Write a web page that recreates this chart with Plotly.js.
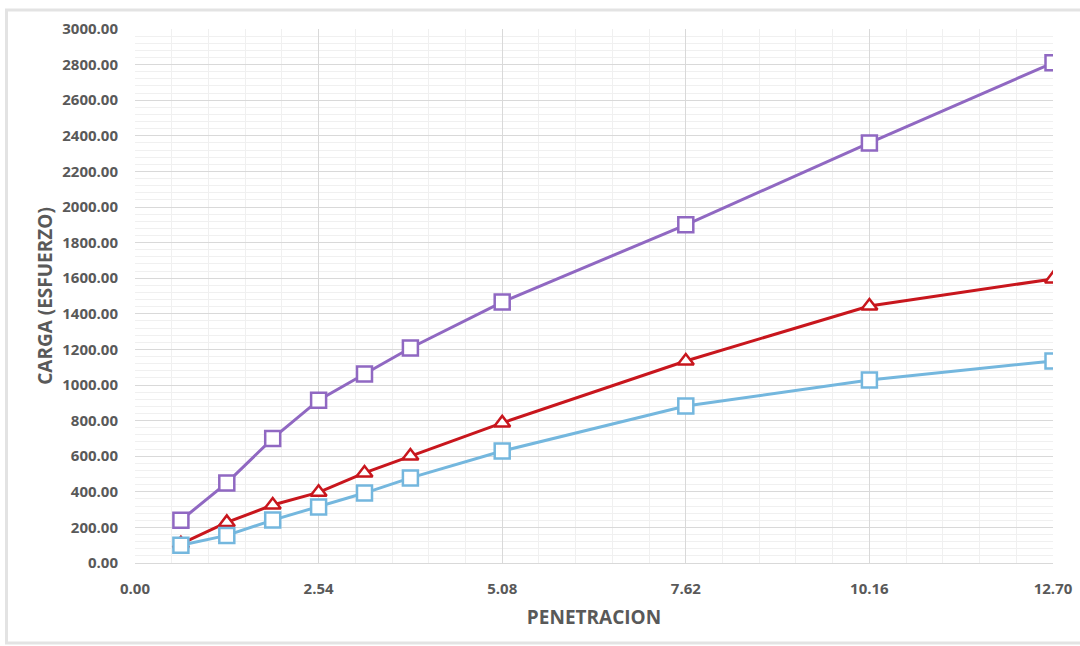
<!DOCTYPE html>
<html>
<head>
<meta charset="utf-8">
<script src="https://cdn.plot.ly/plotly-3.0.1.min.js"></script>
<style>html,body{margin:0;padding:0;background:#fff;}#chart{width:1080px;height:646px;}</style>
</head>
<body>
<div id="chart"></div>
<script>
const penetracion = [0.635, 1.27, 1.905, 2.54, 3.175, 3.81, 5.08, 7.62, 10.16, 12.70];
const cargaMorada = [240, 450, 700, 915, 1062, 1208, 1466, 1900, 2360, 2810];
const cargaRoja   = [108, 228, 326, 397, 506, 601, 787, 1135, 1444, 1596];
const cargaAzul   = [100, 155, 241, 315, 393, 478, 629, 882, 1028, 1135];
const xTicks = [0, 2.54, 5.08, 7.62, 10.16, 12.70];

const FONT = "Open Sans, sans-serif";
const GRAY = "#595959";

function serie(y, color, symbol, size, name) {
  return {
    x: penetracion, y: y, name: name, type: "scatter", mode: "lines+markers",
    line: {color: color, width: 3},
    marker: {symbol: symbol, size: size, color: "#ffffff", line: {color: color, width: 2.5}},
    showlegend: false
  };
}

const data = [
  serie(cargaMorada, "#9068c2", "square", 15, "Morada"),
  serie(cargaRoja, "#c8161d", "triangle-up", 14, "Roja"),
  serie(cargaAzul, "#74b7de", "square", 15, "Azul")
];

const tickFont = {family: FONT, size: 15, color: GRAY, weight: "bold"};
const titleFont = {family: FONT, size: 19, color: GRAY, weight: "bold"};

const layout = {
  width: 1080, height: 646,
  margin: {l: 135, r: 27, t: 29, b: 83},
  paper_bgcolor: "#fff", plot_bgcolor: "#fff",
  font: {family: FONT, color: GRAY},
  xaxis: {
    range: [0, 12.70], tickvals: xTicks, ticktext: xTicks.map(v => v.toFixed(2)),
    showgrid: true, gridcolor: "#d9d9d9", gridwidth: 1,
    minor: {dtick: 0.508, tick0: 0, showgrid: true, gridcolor: "#f0f0f0", gridwidth: 1},
    zeroline: false, showline: true, linecolor: "#d9d9d9",
    ticks: "outside", ticklen: 12, tickcolor: "rgba(0,0,0,0)",
    tickfont: tickFont,
    title: {text: "PENETRACION", standoff: 13, font: titleFont}
  },
  yaxis: {
    range: [0, 3000], dtick: 200, tick0: 0, tickformat: ".2f",
    showgrid: true, gridcolor: "#d9d9d9", gridwidth: 1,
    minor: {dtick: 40, showgrid: true, gridcolor: "#f0f0f0", gridwidth: 1},
    zeroline: false, showline: false,
    ticks: "outside", ticklen: 13, tickcolor: "rgba(0,0,0,0)",
    tickfont: tickFont,
    title: {text: "CARGA (ESFUERZO)", standoff: 4, font: titleFont}
  },
  shapes: [{
    type: "rect", xref: "paper", yref: "paper",
    x0: -0.140, x1: 1.2, y0: -0.15, y1: 1.0356,
    line: {color: "#e3e3e3", width: 3}, fillcolor: "rgba(0,0,0,0)", layer: "below"
  }]
};

Plotly.newPlot("chart", data, layout, {displayModeBar: false, staticPlot: true});
</script>
</body>
</html>
